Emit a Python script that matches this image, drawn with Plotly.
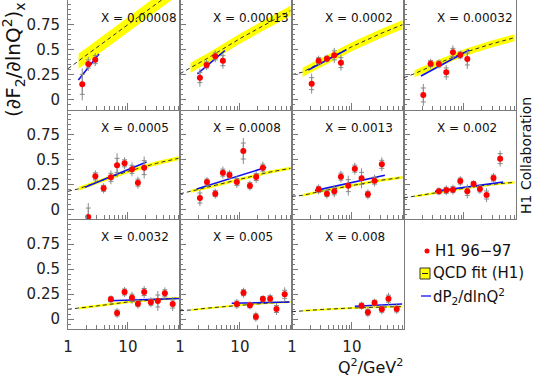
import plotly.graph_objects as go
from plotly.subplots import make_subplots

FONT = "DejaVu Sans"

# ---------------- data ----------------
x_labels = ["X = 0.00008", "X = 0.00013", "X = 0.0002", "X = 0.00032",
            "X = 0.0005", "X = 0.0008", "X = 0.0013", "X = 0.002",
            "X = 0.0032", "X = 0.005", "X = 0.008"]

q2_pts = [
    [1.73, 2.18, 2.85],
    [2.15, 2.78, 3.88, 5.2],
    [2.13, 2.78, 3.83, 5.08, 6.56],
    [2.1, 2.78, 3.83, 5.08, 6.56, 8.7, 11.4],
    [2.18, 2.86, 3.93, 5.2, 6.6, 8.8, 11.7, 14.7, 18.7],
    [2.15, 2.82, 3.88, 5.2, 6.7, 8.9, 11.4, 14.7, 18.7, 24.2],
    [2.78, 3.83, 5.08, 6.56, 8.7, 11.2, 14.5, 18.5, 23.9, 31.6],
    [3.83, 5.08, 6.56, 8.7, 11.4, 14.5, 18.5, 23.9, 31.2, 40.3],
    [5.2, 6.6, 8.8, 11.7, 14.7, 18.7, 24.2, 31.6, 41.4, 56],
    [8.9, 11.5, 14.7, 18.5, 24.2, 32, 40.8, 56],
    [14.5, 18.5, 23.9, 31.6, 40.8, 56],
]
df_pts = [
    [0.153, 0.357, 0.40],
    [0.22, 0.347, 0.433, 0.39],
    [0.16, 0.39, 0.41, 0.443, 0.37],
    [0.047, 0.36, 0.357, 0.273, 0.473, 0.447, 0.407],
    [-0.077, 0.33, 0.21, 0.32, 0.44, 0.46, 0.40, 0.267, 0.417],
    [0.113, 0.273, 0.157, 0.367, 0.343, 0.273, 0.583, 0.237, 0.323, 0.417],
    [0.20, 0.157, 0.18, 0.327, 0.237, 0.407, 0.31, 0.15, 0.287, 0.45],
    [0.18, 0.19, 0.197, 0.283, 0.18, 0.253, 0.203, 0.143, 0.313, 0.507],
    [0.197, 0.06, 0.27, 0.213, 0.153, 0.27, 0.167, 0.18, 0.257, 0.15],
    [0.15, 0.263, 0.137, 0.023, 0.20, 0.203, 0.10, 0.247],
    [0.133, 0.067, 0.163, 0.097, 0.203, 0.10],
]
err_tot = [
    [0.16, 0.07, 0.065],
    [0.09, 0.05, 0.06, 0.08],
    [0.10, 0.05, 0.04, 0.075, 0.08],
    [0.11, 0.05, 0.045, 0.075, 0.07, 0.045, 0.10],
    [0.14, 0.06, 0.05, 0.07, 0.12, 0.06, 0.07, 0.06, 0.11],
    [0.08, 0.05, 0.05, 0.06, 0.05, 0.06, 0.13, 0.05, 0.06, 0.06],
    [0.05, 0.05, 0.06, 0.06, 0.10, 0.06, 0.10, 0.05, 0.06, 0.07],
    [0.04, 0.05, 0.05, 0.05, 0.07, 0.04, 0.05, 0.07, 0.05, 0.08],
    [0.04, 0.05, 0.05, 0.06, 0.05, 0.06, 0.05, 0.10, 0.06, 0.07],
    [0.05, 0.05, 0.04, 0.05, 0.04, 0.05, 0.06, 0.07],
    [0.04, 0.05, 0.04, 0.05, 0.06, 0.05],
]
err_stat = [
    [0.10, 0.04, 0.04],
    [0.05, 0.03, 0.035, 0.05],
    [0.06, 0.03, 0.025, 0.045, 0.05],
    [0.07, 0.03, 0.03, 0.045, 0.04, 0.03, 0.06],
    [0.09, 0.035, 0.03, 0.04, 0.07, 0.035, 0.04, 0.035, 0.07],
    [0.05, 0.03, 0.03, 0.035, 0.03, 0.035, 0.08, 0.03, 0.035, 0.035],
    [0.03, 0.03, 0.035, 0.035, 0.06, 0.035, 0.06, 0.03, 0.035, 0.04],
    [0.025, 0.03, 0.03, 0.03, 0.04, 0.025, 0.03, 0.04, 0.03, 0.05],
    [0.025, 0.03, 0.03, 0.035, 0.03, 0.035, 0.03, 0.06, 0.035, 0.04],
    [0.03, 0.03, 0.025, 0.03, 0.025, 0.03, 0.035, 0.04],
    [0.025, 0.03, 0.025, 0.03, 0.035, 0.03],
]

# QCD fit (H1): central curve read at these Q2 nodes, band half-width per panel
qcd_q2 = [1, 1.5, 3, 10, 30, 70]
qcd_val = [
    [0.31, 0.385, 0.52, 0.75, 0.96, 1.12],
    [0.26, 0.32, 0.42, 0.61, 0.77, 0.89],
    [0.25, 0.275, 0.37, 0.53, 0.66, 0.75],
    [0.22, 0.26, 0.34, 0.47, 0.56, 0.62],
    [0.18, 0.205, 0.27, 0.38, 0.46, 0.51],
    [0.155, 0.18, 0.22, 0.30, 0.37, 0.41],
    [0.13, 0.14, 0.18, 0.24, 0.29, 0.32],
    [0.115, 0.13, 0.16, 0.21, 0.25, 0.27],
    [0.097, 0.107, 0.13, 0.17, 0.195, 0.21],
    [0.083, 0.09, 0.11, 0.14, 0.16, 0.17],
    [0.073, 0.083, 0.095, 0.11, 0.12, 0.125],
]
qcd_err = [0.075, 0.05, 0.045, 0.035, 0.02, 0.015, 0.013, 0.012, 0.012, 0.01, 0.01]

# dP2/dlnQ2 straight-line fits: endpoints
dp2_q2 = [[1.49, 3.29], [1.95, 5.6], [1.87, 8.1], [1.92, 12.3], [1.92, 20.5],
          [1.9, 27.5], [2.42, 35.5], [3.29, 45.3], [4.7, 74], [7.3, 67.6], [11.2, 69]]
dp2_val = [[0.197, 0.457], [0.257, 0.49], [0.297, 0.50], [0.237, 0.497], [0.22, 0.473],
           [0.203, 0.42], [0.187, 0.34], [0.18, 0.273], [0.183, 0.205], [0.157, 0.17],
           [0.127, 0.15]]

y_tickvals = [0, 0.25, 0.5, 0.75]
y_ticktext = ["0", "0.25", "0.5", "0.75"]
x_tickvals = [1, 10]
x_ticktext = ["1", "10"]
x_minor = [2, 3, 4, 5, 6, 7, 8, 9, 20, 30, 40, 50, 60, 70]

# ---------------- figure ----------------
W, H = 533, 381
ML, MR, MT, MB = 68, 17, 0, 52
PW, PH = W - ML - MR, H - MT - MB

fig = make_subplots(rows=3, cols=4, horizontal_spacing=0, vertical_spacing=0)

AX = "#7a7a7a"
for i in range(11):
    r, c = i // 4 + 1, i % 4 + 1
    band_x = qcd_q2[1:]
    up = [v + qcd_err[i] for v in qcd_val[i][1:]]
    lo = [v - qcd_err[i] for v in qcd_val[i][1:]]
    fig.add_trace(go.Scatter(x=band_x, y=up, mode="lines", line=dict(width=0),
                             showlegend=False, hoverinfo="skip"), row=r, col=c)
    fig.add_trace(go.Scatter(x=band_x, y=lo, mode="lines", line=dict(width=0),
                             fill="tonexty", fillcolor="#ffff00",
                             showlegend=False, hoverinfo="skip"), row=r, col=c)
    fig.add_trace(go.Scatter(x=qcd_q2, y=qcd_val[i], mode="lines",
                             line=dict(color="#333333", width=1, dash="4px,3px"),
                             showlegend=False, hoverinfo="skip"), row=r, col=c)
    fig.add_trace(go.Scatter(x=dp2_q2[i], y=dp2_val[i], mode="lines",
                             line=dict(color="#1010ee", width=1.6),
                             showlegend=False, hoverinfo="skip"), row=r, col=c)
    # total errors
    fig.add_trace(go.Scatter(x=q2_pts[i], y=df_pts[i], mode="markers",
                             marker=dict(size=0.1, color="rgba(0,0,0,0)"),
                             error_y=dict(type="data", array=err_tot[i], color="#8a8a8a",
                                          thickness=1, width=0),
                             showlegend=False, hoverinfo="skip"), row=r, col=c)
    # stat errors with small caps
    fig.add_trace(go.Scatter(x=q2_pts[i], y=df_pts[i], mode="markers",
                             marker=dict(size=6, color="#ff0000"),
                             error_y=dict(type="data", array=err_stat[i], color="#8a8a8a",
                                          thickness=1, width=2.5),
                             showlegend=False, hoverinfo="skip"), row=r, col=c)

for i in range(12):
    r, c = i // 4 + 1, i % 4 + 1
    if i == 11:
        fig.update_xaxes(visible=False, row=r, col=c)
        fig.update_yaxes(visible=False, row=r, col=c)
        continue
    fig.update_xaxes(type="log", range=[0, 1.87], showgrid=False, zeroline=False,
                     automargin=False,
                     showline=True, linecolor=AX, linewidth=1, mirror=False,
                     ticks="inside", ticklen=7, tickcolor=AX, tickwidth=1,
                     tickmode="array", tickvals=x_tickvals, ticktext=x_ticktext,
                     showticklabels=(r == 3),
                     tickfont=dict(family=FONT, size=15, color="#222222"),
                     ticklabelstandoff=4,
                     minor=dict(tickmode="array", tickvals=x_minor, ticks="inside",
                                ticklen=4, tickcolor=AX, tickwidth=1, showgrid=False),
                     row=r, col=c)
    fig.update_yaxes(range=[-0.1, 0.9967], showgrid=False, zeroline=False,
                     automargin=False,
                     showline=True, linecolor=AX, linewidth=1, mirror=True,
                     ticks="inside", ticklen=6, tickcolor=AX, tickwidth=1,
                     tickmode="array", tickvals=y_tickvals, ticktext=y_ticktext,
                     showticklabels=(c == 1),
                     tickfont=dict(family=FONT, size=15, color="#222222"),
                     ticklabelstandoff=4,
                     minor=dict(dtick=0.05, tick0=0, ticks="inside", ticklen=3,
                                tickcolor=AX, tickwidth=1, showgrid=False),
                     row=r, col=c)

annotations = []
for i, lab in enumerate(x_labels):
    sfx = "" if i == 0 else str(i + 1)
    annotations.append(dict(text=lab, xref=f"x{sfx} domain", yref=f"y{sfx} domain",
                            x=31 / 112, y=1 - 18 / (PH / 3), xanchor="left", yanchor="middle",
                            showarrow=False, font=dict(family=FONT, size=12, color="#111111")))


def px(xp):
    return (xp - ML) / PW


def py(yp):
    return (H - MB - yp) / PH


annotations += [
    dict(text="(∂F<sub>2</sub>/∂lnQ<sup>2</sup>)<sub>x</sub>", xref="paper", yref="paper",
         x=px(13), y=py(60), textangle=-90, showarrow=False, xanchor="center", yanchor="middle",
         font=dict(family=FONT, size=20, color="#111111")),
    dict(text="Q<sup>2</sup>/GeV<sup>2</sup>", xref="paper", yref="paper",
         x=px(370), y=py(366), showarrow=False, xanchor="center", yanchor="middle",
         font=dict(family=FONT, size=16, color="#111111")),
    dict(text="H1 Collaboration", xref="paper", yref="paper",
         x=px(526), y=py(156), textangle=-90, showarrow=False, xanchor="center", yanchor="middle",
         font=dict(family=FONT, size=14, color="#111111")),
    dict(text="H1 96−97", xref="paper", yref="paper", x=px(433), y=py(251),
         showarrow=False, xanchor="left", yanchor="middle",
         font=dict(family=FONT, size=15, color="#111111")),
    dict(text="QCD fit (H1)", xref="paper", yref="paper", x=px(431), y=py(273),
         showarrow=False, xanchor="left", yanchor="middle",
         font=dict(family=FONT, size=15, color="#111111")),
    dict(text="dP<sub>2</sub>/dlnQ<sup>2</sup>", xref="paper", yref="paper", x=px(431), y=py(296),
         showarrow=False, xanchor="left", yanchor="middle",
         font=dict(family=FONT, size=15, color="#111111")),
]

shapes = [
    dict(type="circle", xref="paper", yref="paper", x0=px(424.5), x1=px(429.5),
         y0=py(253.5), y1=py(248.5), fillcolor="#ff0000", line=dict(width=0)),
    dict(type="rect", xref="paper", yref="paper", x0=px(420), x1=px(430),
         y0=py(279), y1=py(268), fillcolor="#ffff00", line=dict(color="#333333", width=1)),
    dict(type="line", xref="paper", yref="paper", x0=px(422), x1=px(428),
         y0=py(273.5), y1=py(273.5), line=dict(color="#222222", width=1)),
    dict(type="line", xref="paper", yref="paper", x0=px(421), x1=px(431),
         y0=py(296), y1=py(296), line=dict(color="#1010ee", width=1.3)),
]

fig.update_layout(width=W, height=H, margin=dict(l=ML, r=MR, t=MT, b=MB, autoexpand=False),
                  paper_bgcolor="white", plot_bgcolor="white",
                  annotations=annotations, shapes=shapes, showlegend=False)

fig.write_html("out.html", config={"displayModeBar": False},
               post_script="document.body.style.margin='0';document.body.style.overflow='hidden';")
